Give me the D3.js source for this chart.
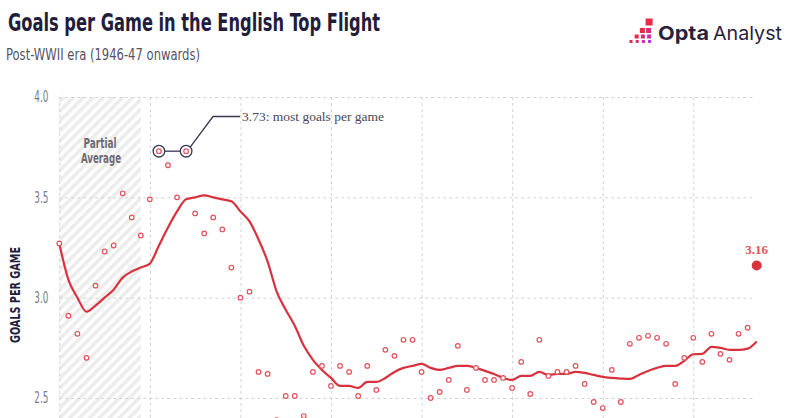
<!DOCTYPE html>
<html>
<head>
<meta charset="utf-8">
<script src="https://cdn.jsdelivr.net/npm/d3@7"></script>
<style>
  body { margin: 0; background: #fff; }
  svg { display: block; }
  .cond { font-family: "Liberation Sans Narrow", "DejaVu Sans Condensed", "Roboto", sans-serif; }
</style>
</head>
<body>
<div class="chart"></div>
<script>
const WIDTH = 800;
const HEIGHT = 418;

// season start years, 1946-47 .. 2023-24
var seasons = d3.range(1946, 2024);

// goals per game for each season (1970-71 sits below the visible area)
var goalsPerGame = [
  3.27, 2.91, 2.82, 2.70, 3.06, 3.23, 3.26, 3.52, 3.40, 3.31,
  3.49, 3.73, 3.66, 3.50, 3.73, 3.42, 3.32, 3.40, 3.34, 3.15,
  3.00, 3.03, 2.63, 2.62, 2.39, 2.51, 2.51, 2.41, 2.63, 2.66,
  2.56, 2.66, 2.63, 2.51, 2.66, 2.54, 2.74, 2.71, 2.79, 2.79,
  2.63, 2.50, 2.53, 2.59, 2.76, 2.54, 2.65, 2.59, 2.59, 2.60,
  2.55, 2.68, 2.52, 2.79, 2.61, 2.63, 2.63, 2.66, 2.57, 2.48,
  2.45, 2.64, 2.48, 2.77, 2.80, 2.81, 2.80, 2.77, 2.57, 2.70,
  2.80, 2.68, 2.82, 2.72, 2.69, 2.82, 2.85, 3.16
];

// ten-season rolling average
var rollingAverage = [
  3.27, 3.09, 3.00, 2.93, 2.96, 3.00, 3.04, 3.10, 3.13, 3.15,
  3.17, 3.26, 3.35, 3.43, 3.49, 3.50, 3.51, 3.50, 3.49, 3.48,
  3.43, 3.38, 3.29, 3.18, 3.03, 2.94, 2.86, 2.76, 2.69, 2.64,
  2.60, 2.56, 2.56, 2.55, 2.58, 2.58, 2.60, 2.63, 2.65, 2.66,
  2.67, 2.65, 2.64, 2.65, 2.66, 2.66, 2.65, 2.635, 2.62, 2.60,
  2.59, 2.61, 2.61, 2.63, 2.615, 2.62, 2.62, 2.63, 2.625, 2.615,
  2.605, 2.60, 2.597, 2.595, 2.615, 2.635, 2.65, 2.66, 2.66, 2.685,
  2.718, 2.72, 2.755, 2.75, 2.74, 2.74, 2.746, 2.782
];

var yTicks = [2.5, 3.0, 3.5, 4.0];
var xGridYears = [1946, 1956, 1966, 1976, 1986, 1996, 2006, 2016];
var partialYears = [1946, 1955];
var recordYears = [1957, 1960];
var recordValue = 3.73;

// logo pixels: [column, row, size]
var logoPixels = [
  [3, 0, 7],
  [2, 1, 5], [3, 1, 5],
  [1, 2, 4], [2, 2, 4], [3, 2, 4],
  [0, 3, 3], [1, 3, 3], [2, 3, 3], [3, 3, 3]
];
var logoRowTop = [0, 9.5, 16, 21.5];

var x = d3.scaleLinear().domain([1946, 2023]).range([59.3, 756.7]);
var y = d3.scaleLinear().domain([2.5, 4.0]).range([398, 97]);
var gridRight = 755;

var svg = d3.select('.chart').append('svg')
  .attr('width', WIDTH)
  .attr('height', HEIGHT);

var defs = svg.append('defs');
var hatch = defs.append('pattern')
  .attr('id', 'hatch')
  .attr('patternUnits', 'userSpaceOnUse')
  .attr('width', 7)
  .attr('height', 7)
  .attr('patternTransform', 'rotate(45)');
hatch.append('rect').attr('width', 3.6).attr('height', 7).attr('fill', '#ececec');

// titles
svg.append('text')
  .attr('class', 'cond')
  .attr('x', 8).attr('y', 31)
  .attr('textLength', 372).attr('lengthAdjust', 'spacingAndGlyphs')
  .attr('font-size', 25).attr('font-weight', 'bold')
  .attr('fill', '#231d3b')
  .text('Goals per Game in the English Top Flight');

svg.append('text')
  .attr('class', 'cond')
  .attr('x', 6).attr('y', 60)
  .attr('textLength', 194).attr('lengthAdjust', 'spacingAndGlyphs')
  .attr('font-size', 16)
  .attr('fill', '#55535f')
  .text('Post-WWII era (1946-47 onwards)');

// logo
var logoColour = d3.scaleLinear().domain([0, 1]).range(['#ea2a48', '#b233dc']);
var logo = svg.append('g').attr('transform', 'translate(626,18.5)');
logo.selectAll('rect').data(logoPixels).enter().append('rect')
  .attr('x', function (d) { return d[0] * 6.2 + 6.5 - d[2] + (d[1] == 0 ? 1.5 : 0); })
  .attr('y', function (d) { return logoRowTop[d[1]]; })
  .attr('width', function (d) { return d[2]; })
  .attr('height', function (d) { return d[2]; })
  .attr('fill', function (d) { return logoColour(Math.max(0, (d[0] + d[1] - 3) / 3)); });

svg.append('text')
  .attr('x', 658).attr('y', 40)
  .attr('textLength', 51).attr('lengthAdjust', 'spacingAndGlyphs')
  .attr('font-family', 'Inter, Lato, sans-serif')
  .attr('font-size', 19).attr('font-weight', 'bold')
  .attr('fill', '#2a1f3d')
  .text('Opta');
svg.append('text')
  .attr('x', 713).attr('y', 40)
  .attr('textLength', 69).attr('lengthAdjust', 'spacingAndGlyphs')
  .attr('font-family', 'Inter, Lato, sans-serif')
  .attr('font-size', 19)
  .attr('fill', '#2a1f3d')
  .text('Analyst');

var plot = svg.append('g');

// partial average zone
plot.append('rect')
  .attr('x', x(partialYears[0]))
  .attr('y', y(4.0))
  .attr('width', x(partialYears[1]) - x(partialYears[0]))
  .attr('height', HEIGHT - y(4.0))
  .attr('fill', 'url(#hatch)');

plot.append('text')
  .attr('class', 'cond')
  .attr('x', 100).attr('y', 147.5)
  .attr('text-anchor', 'middle')
  .attr('textLength', 33).attr('lengthAdjust', 'spacingAndGlyphs')
  .attr('font-size', 14.5).attr('font-weight', 600)
  .attr('fill', '#6c6a72')
  .text('Partial');
plot.append('text')
  .attr('class', 'cond')
  .attr('x', 101).attr('y', 163)
  .attr('text-anchor', 'middle')
  .attr('textLength', 40).attr('lengthAdjust', 'spacingAndGlyphs')
  .attr('font-size', 14.5).attr('font-weight', 600)
  .attr('fill', '#6c6a72')
  .text('Average');

// grid via axes
var yAxis = d3.axisLeft(y)
  .tickValues(yTicks)
  .tickSize(-(gridRight - x(1946)))
  .tickPadding(11)
  .tickFormat(d3.format('.1f'));
var yAxisG = plot.append('g')
  .attr('transform', 'translate(' + x(1946) + ',0)')
  .call(yAxis);
yAxisG.select('.domain').remove();
yAxisG.selectAll('line')
  .attr('stroke', '#d4d4d4')
  .attr('stroke-dasharray', '3,3');
yAxisG.selectAll('text')
  .attr('class', 'cond')
  .attr('font-size', 15)
  .attr('textLength', 14)
  .attr('lengthAdjust', 'spacingAndGlyphs')
  .attr('fill', '#6f7d92');

var xAxis = d3.axisTop(x)
  .tickValues(xGridYears)
  .tickSize(-(HEIGHT - y(4.0)))
  .tickFormat('');
var xAxisG = plot.append('g')
  .attr('transform', 'translate(0,' + y(4.0) + ')')
  .call(xAxis);
xAxisG.select('.domain').remove();
xAxisG.selectAll('line')
  .attr('stroke', '#d4d4d4')
  .attr('stroke-dasharray', '3,3');

// axis title
svg.append('text')
  .attr('class', 'cond')
  .attr('transform', 'translate(20,295) rotate(-90)')
  .attr('text-anchor', 'middle')
  .attr('textLength', 96).attr('lengthAdjust', 'spacingAndGlyphs')
  .attr('font-size', 14).attr('font-weight', 'bold')
  .attr('fill', '#231d3b')
  .text('GOALS PER GAME');

// rolling average line
var line = d3.line()
  .x(function (d, i) { return x(seasons[i]); })
  .y(function (d) { return y(d); })
  .curve(d3.curveMonotoneX);

plot.append('path')
  .attr('d', line(rollingAverage))
  .attr('fill', 'none')
  .attr('stroke', '#d9323f')
  .attr('stroke-width', 2.2)
  .attr('stroke-linejoin', 'round');

// season points
var lastIndex = goalsPerGame.length - 1;
plot.append('g').selectAll('circle')
  .data(goalsPerGame.slice(0, lastIndex))
  .enter().append('circle')
  .attr('cx', function (d, i) { return x(seasons[i]); })
  .attr('cy', function (d) { return y(d); })
  .attr('r', 2.3)
  .attr('fill', '#fff')
  .attr('stroke', '#e0525c')
  .attr('stroke-width', 1.2);

// current season
plot.append('circle')
  .attr('cx', x(seasons[lastIndex]))
  .attr('cy', y(goalsPerGame[lastIndex]))
  .attr('r', 5)
  .attr('fill', '#d9323f');
plot.append('text')
  .attr('x', x(seasons[lastIndex]))
  .attr('y', y(goalsPerGame[lastIndex]) - 12)
  .attr('text-anchor', 'middle')
  .attr('font-family', '"Liberation Serif", "DejaVu Serif", serif')
  .attr('font-size', 13).attr('font-weight', 'bold')
  .attr('fill', '#e0525c')
  .text(d3.format('.2f')(goalsPerGame[lastIndex]));

// record annotation
var ann = plot.append('g')
  .attr('fill', 'none')
  .attr('stroke', '#3e3752')
  .attr('stroke-width', 1.3);
ann.selectAll('circle').data(recordYears).enter().append('circle')
  .attr('cx', function (d) { return x(d); })
  .attr('cy', y(recordValue))
  .attr('r', 5.8);
ann.append('line')
  .attr('x1', x(recordYears[0]) + 5.8)
  .attr('x2', x(recordYears[1]) - 5.8)
  .attr('y1', y(recordValue))
  .attr('y2', y(recordValue));
ann.append('path')
  .attr('d', 'M' + (x(recordYears[1]) + 4.1) + ',' + (y(recordValue) - 4.1) +
    'L213,116.5L240,116.5');

plot.append('text')
  .attr('x', 242).attr('y', 121)
  .attr('font-family', '"Liberation Serif", "DejaVu Serif", serif')
  .attr('font-size', 13.5)
  .attr('fill', '#4a4658')
  .text(d3.format('.2f')(recordValue) + ': most goals per game');
</script>
</body>
</html>
